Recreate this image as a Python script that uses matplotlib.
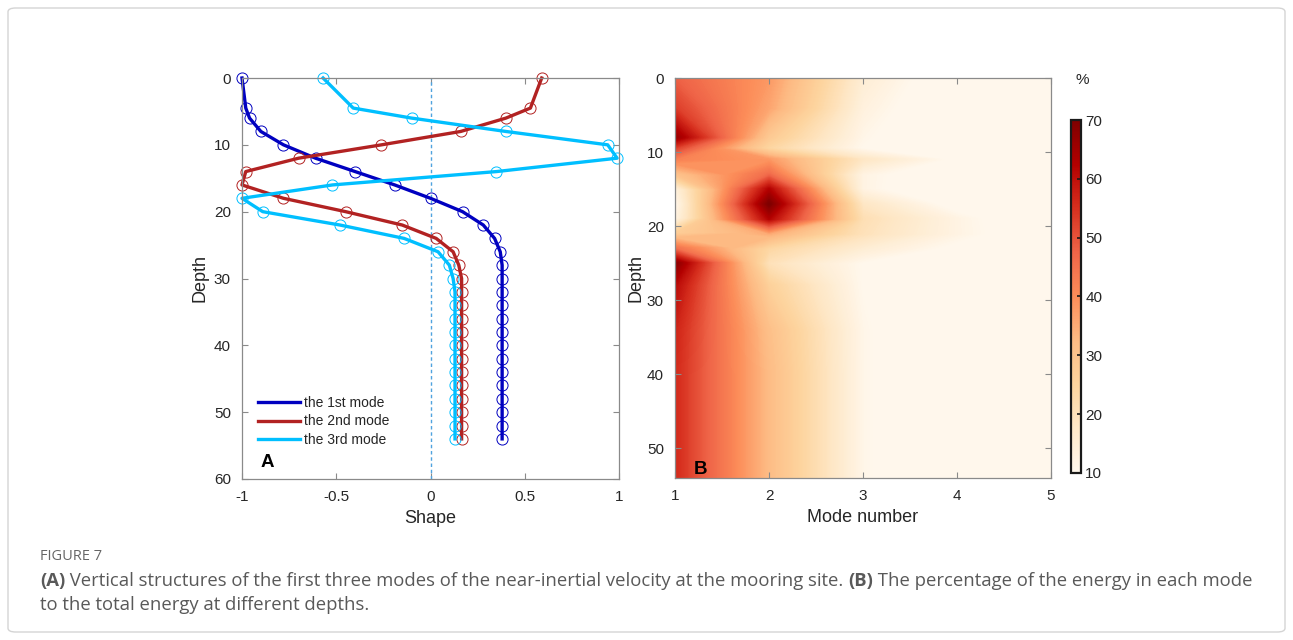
import matplotlib
matplotlib.use('Agg')
import matplotlib.pyplot as plt
import numpy as np
from matplotlib.patches import FancyBboxPatch
from matplotlib.cm import ScalarMappable
from matplotlib.colors import Normalize

plt.rcParams['font.family'] = ['Liberation Sans', 'DejaVu Sans']

# ---- panel A: mode shapes ----
depth = [0, 4.5, 6, 8, 10, 12, 14, 16, 18, 20, 22, 24, 26, 28, 30, 32, 34,
         36, 38, 40, 42, 44, 46, 48, 50, 52, 54]
mode1 = [-1.0, -0.98, -0.96, -0.90, -0.78, -0.61, -0.40, -0.19, 0.0, 0.17,
         0.28, 0.34, 0.37, 0.38, 0.38, 0.38, 0.38, 0.38, 0.38, 0.38, 0.38,
         0.38, 0.38, 0.38, 0.38, 0.38, 0.38]
mode2 = [0.59, 0.53, 0.40, 0.16, -0.26, -0.70, -0.98, -1.0, -0.78, -0.45,
         -0.15, 0.03, 0.12, 0.15, 0.165, 0.165, 0.165, 0.165, 0.165, 0.165,
         0.165, 0.165, 0.165, 0.165, 0.165, 0.165, 0.165]
mode3 = [-0.57, -0.41, -0.10, 0.40, 0.94, 0.99, 0.35, -0.52, -1.0, -0.89,
         -0.48, -0.14, 0.04, 0.10, 0.12, 0.13, 0.13, 0.13, 0.13, 0.13, 0.13,
         0.13, 0.13, 0.13, 0.13, 0.13, 0.13]
mode_labels = ['the 1st mode', 'the 2nd mode', 'the 3rd mode']
mode_colors = ['#0000C0', '#B22222', '#00BFFF']

# ---- panel B: energy percentage per mode ----
modes = [1, 2, 3, 4, 5]
dep_e = [0, 4, 8, 9.5, 11, 13, 15, 17, 19, 21, 23, 25, 28, 34, 40, 47, 54]
e1 = [48, 53, 66, 52, 42, 30, 13, 10, 12, 27, 45, 68, 61, 57, 56, 56, 56]
e2 = [38, 36, 28, 24, 38, 46, 62, 70, 62, 35, 24, 20, 26, 31, 32, 32, 32]
e3 = [15, 13, 11, 10, 18, 12, 12, 18, 21, 20, 15, 10, 10, 11, 11, 11, 11]
e4 = [6, 5, 4, 4, 9, 5, 4, 8, 12, 12, 9, 5, 5, 3, 3, 3, 3]
e5 = [3, 3, 2, 2, 4, 3, 2, 3, 5, 6, 4, 2, 2, 1, 1, 1, 1]

W, H = 1293, 640
fig = plt.figure(figsize=(W / 100, H / 100), dpi=100)

def fx(px):
    return px / W

def fy(py):
    return 1 - py / H

# outer frame
fig.patches.append(FancyBboxPatch((fx(8), fy(632)), fx(1277), 624 / H,
                                  boxstyle='round,pad=0,rounding_size=0.006',
                                  transform=fig.transFigure, fill=False,
                                  edgecolor='#d4d4d4', linewidth=1.0))

spine_c = '#8a8a8a'
tick_c = '#262626'

def style_axes(ax):
    for s in ax.spines.values():
        s.set_color(spine_c)
        s.set_linewidth(0.9)
    ax.tick_params(direction='in', top=True, right=True, length=4,
                   width=0.8, color=spine_c, labelcolor=tick_c, labelsize=11,
                   pad=8)

# panel A
ax1 = fig.add_axes([fx(242), fy(479), fx(619 - 242), (479 - 78) / H])
ax1.axvline(0, color='#4fa3df', linestyle=(0, (2.5, 2)), linewidth=1.0)
for vals, lab, c in zip([mode1, mode2, mode3], mode_labels, mode_colors):
    ax1.plot(vals, depth, color=c, linewidth=2.4, label=lab, clip_on=False)
    ax1.plot(vals, depth, linestyle='none', marker='o', markersize=8,
             markerfacecolor='none', markeredgecolor=c, markeredgewidth=0.7,
             clip_on=False)
ax1.set_xlim(-1, 1)
ax1.set_ylim(60, 0)
ax1.set_xticks([-1, -0.5, 0, 0.5, 1])
ax1.set_xticklabels(['-1', '-0.5', '0', '0.5', '1'])
ax1.set_yticks([0, 10, 20, 30, 40, 50, 60])
style_axes(ax1)
ax1.set_xlabel('Shape', fontsize=13, color=tick_c, labelpad=4)
ax1.set_ylabel('Depth', fontsize=13, color=tick_c, labelpad=4)
leg = ax1.legend(loc='lower left', bbox_to_anchor=(0.02, 0.06), frameon=False,
                 fontsize=10, handlelength=3.0, handletextpad=0.35,
                 labelspacing=0.3, borderaxespad=0.2)
for t in leg.get_texts():
    t.set_color(tick_c)
ax1.text(0.05, 0.02, 'A', transform=ax1.transAxes, fontsize=13.5,
         fontweight='bold', color='black', va='bottom', ha='left')

# panel B
ax2 = fig.add_axes([fx(675), fy(478), fx(1051 - 675), (478 - 78) / H])
grid = np.array([e1, e2, e3, e4, e5]).T
norm = Normalize(vmin=10, vmax=70)
cs = ax2.contourf(modes, dep_e, grid, levels=np.linspace(10, 70, 241),
                  cmap='OrRd', norm=norm, extend='both')
cs.set_edgecolor('face')
cs.set_linewidth(0.4)
ax2.set_xlim(1, 5)
ax2.set_ylim(54, 0)
ax2.set_xticks([1, 2, 3, 4, 5])
ax2.set_yticks([0, 10, 20, 30, 40, 50])
style_axes(ax2)
ax2.set_xlabel('Mode number', fontsize=13, color=tick_c, labelpad=4)
ax2.set_ylabel('Depth', fontsize=13, color=tick_c, labelpad=2)
ax2.text(0.05, 0.0, 'B', transform=ax2.transAxes, fontsize=13.5,
         fontweight='bold', color='black', va='bottom', ha='left')

# colorbar
cax = fig.add_axes([fx(1071), fy(473), fx(10), (473 - 120) / H])
cb = fig.colorbar(ScalarMappable(norm=norm, cmap='OrRd'), cax=cax,
                  ticks=[10, 20, 30, 40, 50, 60, 70])
cb.outline.set_edgecolor('#1a1a1a')
cb.outline.set_linewidth(1.6)
cax.tick_params(direction='in', length=3, width=1.2, color='#1a1a1a',
                labelcolor=tick_c, labelsize=11, pad=3)
fig.text(fx(1082), fy(80), '%', fontsize=11, color=tick_c,
         ha='center', va='center')

# caption
cap_font = ['Open Sans', 'DejaVu Sans']
cap_c = '#595959'
fig.text(fx(40), fy(557), 'FIGURE 7', fontsize=10.5, color='#666666',
         family=cap_font, ha='left', va='center')

renderer = fig.canvas.get_renderer()

def caption_line(parts, y):
    x = fx(40)
    for txt, bold in parts:
        t = fig.text(x, fy(y), txt, fontsize=13.3, color=cap_c, family=cap_font,
                     fontweight='bold' if bold else 'normal',
                     ha='left', va='center')
        bb = t.get_window_extent(renderer=renderer)
        x = bb.x1 / W

caption_line([('(A)', True),
              (' Vertical structures of the first three modes of the '
               'near-inertial velocity at the mooring site. ', False),
              ('(B)', True),
              (' The percentage of the energy in each mode', False)], 581)
caption_line([('to the total energy at different depths.', False)], 605)

fig.savefig('out.png', dpi=100)
